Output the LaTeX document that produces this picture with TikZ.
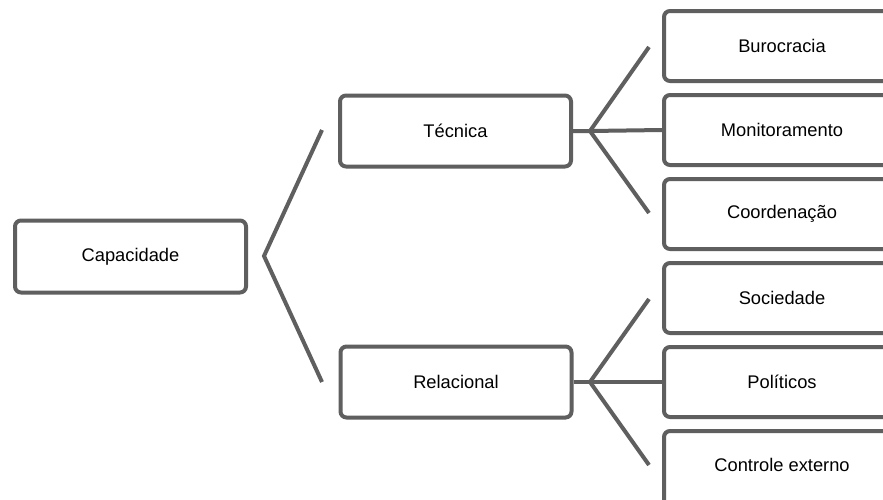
\documentclass[tikz,border=0pt]{standalone}
\usepackage{fontspec}
\setmainfont{Liberation Sans}
\definecolor{lineg}{HTML}{5F5F5F}
\begin{document}
\begin{tikzpicture}[x=1pt,y=-1pt,
  box/.style={draw=lineg,line width=4pt,rounded corners=6pt,fill=white,
    inner sep=0pt,font=\fontsize{18.3}{21}\selectfont},
  midbox/.style={box,minimum width=231pt,minimum height=71pt},
  leafbox/.style={box,minimum width=236pt,minimum height=70pt},
  conn/.style={draw=lineg,line width=4pt}]
\useasboundingbox (0,0) rectangle (883,499);
\clip (0,0) rectangle (883,499);
\fill[white] (0,0) rectangle (883,499);
\node[midbox,minimum height=72pt] (cap) at (130.5,256.5) {Capacidade};
\node[midbox] (tec) at (455.5,131) {Técnica};
\node[midbox] (rel) at (456,382) {Relacional};
\node[leafbox] (bur) at (782,46) {Burocracia};
\node[leafbox] (mon) at (782,130) {Monitoramento};
\node[leafbox] (coo) at (782,214) {Coordenação};
\node[leafbox] (soc) at (782,298) {Sociedade};
\node[leafbox] (pol) at (782,382) {Políticos};
\node[leafbox,minimum height=78pt,text depth=10pt] (ctr) at (782,470) {Controle externo};
% bracket from Capacidade
\coordinate (v0) at (264,256);
\coordinate (v0t) at (322,130);
\coordinate (v0b) at (322,382);
\draw[conn] (v0t) -- (v0) -- (v0b);
% fork Tecnica
\coordinate (f1) at (590,131);
\coordinate (f1t) at (649,47);
\coordinate (f1b) at (649,213);
\draw[conn] (tec.east) -- (f1) -- (mon.west);
\draw[conn] (f1t) -- (f1) -- (f1b);
% fork Relacional
\coordinate (f2) at (590,382);
\coordinate (f2t) at (649,299);
\coordinate (f2b) at (649,465);
\draw[conn] (rel.east) -- (f2) -- (pol.west);
\draw[conn] (f2t) -- (f2) -- (f2b);
\end{tikzpicture}
\end{document}
